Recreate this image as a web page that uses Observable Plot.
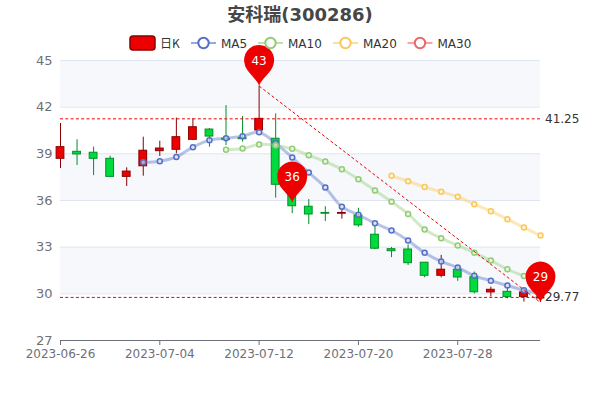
<!DOCTYPE html>
<html><head><meta charset="utf-8">
<script src="https://cdn.jsdelivr.net/npm/d3@7"></script>
<script src="https://cdn.jsdelivr.net/npm/@observablehq/plot@0.6"></script>
<style>
html,body{margin:0;padding:0;background:#fff;font-family:"DejaVu Sans","Noto Sans CJK SC",sans-serif;}
#wrap{position:relative;width:600px;height:400px;overflow:hidden}
#title{position:absolute;left:0;right:0;top:3px;text-align:center;font-size:18px;font-weight:bold;color:#464646;line-height:24px}
#legend{position:absolute;left:0;top:0;width:600px;height:60px;pointer-events:none}
</style></head><body>
<div id="wrap"><div id="chart"></div><div id="title"></div><svg id="legend" width="600" height="60"></svg></div>
<script>
const titleText = "安科瑞(300286)";
const dates = ["2023-06-26","2023-06-27","2023-06-28","2023-06-29","2023-06-30","2023-07-03","2023-07-04","2023-07-05","2023-07-06","2023-07-07","2023-07-10","2023-07-11","2023-07-12","2023-07-13","2023-07-14","2023-07-17","2023-07-18","2023-07-19","2023-07-20","2023-07-21","2023-07-24","2023-07-25","2023-07-26","2023-07-27","2023-07-28","2023-07-31","2023-08-01","2023-08-02","2023-08-03","2023-08-04"];
const opens  = [38.68,39.13,39.07,38.68,37.52,38.2,39.17,39.26,39.9,40.56,39.97,40.03,40.5,39.97,37.0,35.6,35.2,35.15,35.04,33.8,32.87,32.85,32.0,31.16,31.55,31.07,30.09,30.13,29.79,29.7];
const closes = [39.43,38.96,38.68,37.52,37.86,39.2,39.34,40.07,40.71,40.11,39.9,39.94,41.25,37.01,35.63,35.1,35.15,35.2,34.4,32.9,32.74,31.97,31.16,31.55,31.05,30.1,30.26,29.79,30.09,29.77];
const lows   = [38.06,38.25,37.6,37.5,36.9,37.56,38.83,39.0,39.85,39.43,39.53,39.75,40.5,36.15,35.16,34.45,34.65,34.8,34.28,32.85,32.33,31.82,31.03,31.03,30.8,30.0,29.79,29.68,29.47,29.44];
const highs  = [40.95,39.9,39.43,38.85,38.1,40.07,39.81,41.3,41.27,40.63,42.1,41.4,43.36,41.57,37.2,36.06,35.6,35.45,35.5,34.4,32.98,33.15,32.0,32.47,31.8,31.4,30.43,30.43,30.34,30.1];
const ma5  = [null,null,null,null,null,38.46,38.53,38.8,39.43,39.88,40.0,40.13,40.39,39.68,38.76,37.8,36.84,35.6,35.08,34.54,34.07,33.43,32.64,32.08,31.69,31.16,30.84,30.53,30.23,30.04];
const ma10 = [null,null,null,null,null,null,null,null,null,null,39.26,39.34,39.6,39.54,39.32,38.91,38.5,38.01,37.37,36.64,35.92,35.14,34.14,33.58,33.11,32.64,32.14,31.58,31.14,30.7];
const ma20 = [null,null,null,null,null,null,null,null,null,null,null,null,null,null,null,null,null,null,null,null,37.59,37.24,36.86,36.56,36.24,35.76,35.31,34.8,34.26,33.75];
const yTicks = [27,30,33,36,39,42,45];
const xTickIdx = [0,6,12,18,24];
const pinIdx = [12,14,29];
const pinVals = [43.36,35.87,29.44];
const pinLabels = ["43","36","29"];
const maxClose = 41.25, minClose = 29.77;
const bands = [[42,45],[36,39],[30,33]];
const seriesNames = ["MA5","MA10","MA20","MA30"];
const seriesColors = ["#5470C6","#91CC75","#FAC858","#EE6666"];

document.getElementById("title").textContent = titleText;

const candles = dates.map((d,i)=>({i,o:opens[i],c:closes[i],l:lows[i],h:highs[i],up:closes[i]>=opens[i]}));
const HW = 0.235;
const UP="#ec0000",UPB="#8a0000",DN="#00da3c",DNB="#008F28";
const pinSymbol = {draw(ctx,size){
  const s=Math.sqrt(size/Math.PI)/15; const r=15*s, cy=-26*s;
  ctx.moveTo(0,0);
  ctx.bezierCurveTo(-1*s,-6*s,-13*s,-14*s,-r*Math.cos(0.3),cy+r*Math.sin(0.3));
  ctx.arc(0,cy,r,Math.PI-0.3,0.3,false);
  ctx.bezierCurveTo(13*s,-14*s,1*s,-6*s,0,0);
  ctx.closePath();
}};
function maMarks(vals,color){
  const pts=vals.map((v,i)=>({i,v})).filter(p=>p.v!=null);
  return [
    Plot.line(pts,{x:"i",y:"v",stroke:color,strokeWidth:3,strokeOpacity:0.42,curve:"catmull-rom"}),
    Plot.dot(pts,{x:"i",y:"v",r:2.5,stroke:color,strokeWidth:1.5,fill:"#fff",fillOpacity:0.55})
  ];
}
const chart = Plot.plot({
  width:600,height:400,marginLeft:60,marginRight:60,marginTop:60,marginBottom:60,
  style:{fontFamily:"'DejaVu Sans','Noto Sans CJK SC',sans-serif",fontSize:"12px",background:"transparent"},
  x:{type:"linear",domain:[0,29]},
  y:{domain:[27,45]},
  marks:[
    Plot.rect(bands,{x1:()=>0,x2:()=>29,y1:d=>d[0],y2:d=>d[1],fill:"#f6f8fc"}),
    Plot.ruleY(yTicks,{stroke:"#E0E6F1",strokeWidth:1}),
    Plot.ruleY([27],{stroke:"#6E7079",strokeWidth:1}),
    Plot.axisX({ticks:xTickIdx,tickFormat:d=>dates[d],tickSize:5,tickPadding:4,stroke:"#6E7079",fill:"#6E7079",fontSize:12,label:null,fontVariant:"normal"}),
    Plot.axisY({ticks:yTicks,tickSize:0,tickPadding:8,tickFormat:d=>String(d),fill:"#6E7079",fontSize:13,label:null,fontVariant:"normal"}),
    Plot.ruleX(candles,{x:"i",y1:"l",y2:"h",stroke:d=>d.up?UPB:DNB,strokeWidth:1}),
    Plot.rect(candles,{x1:d=>d.i-HW,x2:d=>d.i+HW,y1:"o",y2:"c",fill:d=>d.up?UP:DN,stroke:d=>d.up?UPB:DNB,strokeWidth:1}),
    ...maMarks(ma5,seriesColors[0]),
    ...maMarks(ma10,seriesColors[1]),
    ...maMarks(ma20,seriesColors[2]),
    Plot.ruleY([maxClose],{stroke:"#f00000",strokeWidth:1,strokeDasharray:"3 2.3"}),
    Plot.ruleY([minClose],{stroke:"#f00000",strokeWidth:1,strokeDasharray:"3 2.3"}),
    Plot.link([0],{x1:()=>pinIdx[0],y1:()=>pinVals[0],x2:()=>pinIdx[2],y2:()=>pinVals[2],stroke:"#ec0000",strokeWidth:1,strokeDasharray:"3 2.3"}),
    Plot.text([maxClose],{x:()=>29,y:d=>d,text:d=>d.toFixed(2),dx:4.5,textAnchor:"start",fill:"#333",fontSize:12}),
    Plot.text([minClose],{x:()=>29,y:d=>d,text:d=>d.toFixed(2),dx:4.5,textAnchor:"start",fill:"#333",fontSize:12}),
    Plot.dot(pinIdx,{x:d=>d,y:(d,i)=>pinVals[i],symbol:pinSymbol,r:15,fill:"#ec0000",stroke:"none"}),
    Plot.text(pinIdx,{x:d=>d,y:(d,i)=>pinVals[i],text:(d,i)=>pinLabels[i],dy:-25,fill:"#fff",fontSize:12})
  ]
});
document.getElementById("chart").appendChild(chart);

// legend
const lg=d3.select("#legend");
lg.append("rect").attr("x",130).attr("y",36).attr("width",25).attr("height",14).attr("rx",3).attr("fill",UP).attr("stroke",UPB).attr("stroke-width",1.5);
lg.append("text").attr("x",160).attr("y",47.5).attr("font-size",12).attr("fill","#333").attr("font-family","'Noto Sans CJK SC','DejaVu Sans'").text("日K");
const lx=[191,258,333,407.5];
seriesNames.forEach((n,i)=>{
  const x=lx[i],c=seriesColors[i];
  lg.append("line").attr("x1",x).attr("x2",x+25).attr("y1",43).attr("y2",43).attr("stroke",c).attr("stroke-width",2).attr("stroke-opacity",0.6);
  lg.append("circle").attr("cx",x+12.5).attr("cy",43).attr("r",5.2).attr("fill","#fff").attr("stroke",c).attr("stroke-width",2);
  lg.append("text").attr("x",x+30).attr("y",47.5).attr("font-size",12).attr("fill","#333").attr("font-family","'DejaVu Sans'").text(n);
});
</script></body></html>
